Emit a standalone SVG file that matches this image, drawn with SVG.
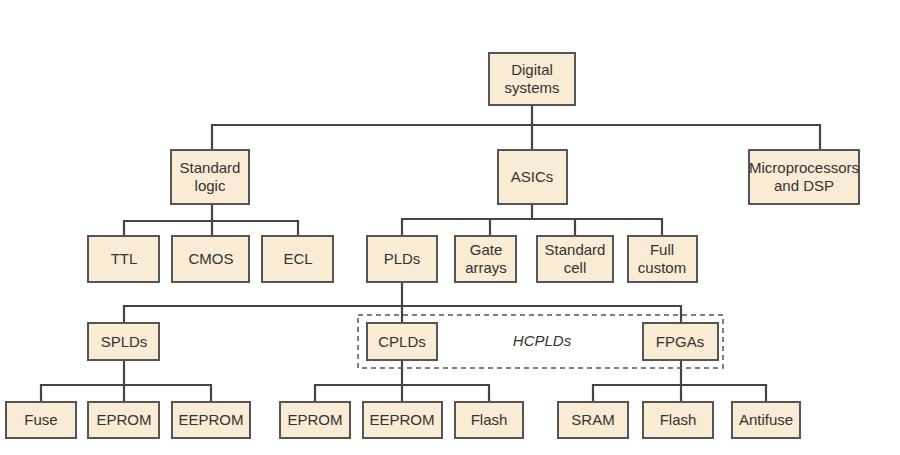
<svg xmlns="http://www.w3.org/2000/svg" width="900" height="455" viewBox="0 0 900 455">
<style>
.n rect{fill:#f9ebd4;stroke:#555;stroke-width:2}
.n text{font-family:"Liberation Sans",Arial,sans-serif;font-size:15px;fill:#333;text-anchor:middle}
#c path{fill:none;stroke:#444;stroke-width:2.2}
</style>
<rect width="900" height="455" fill="#fff"/>
<g id="c">
<path d="M532 105V125M212 150V125H820V150M532 125V150"/>
<path d="M212 204V221M124 236V221H298V236M212 221V236"/>
<path d="M532 204V219M402 236V219H662V236M490 219V236M575 219V236"/>
<path d="M402 282V306M124 323V306H681V323M402 306V323"/>
<path d="M124 360V385M41 402V385H211V402M124 385V402"/>
<path d="M402 360V385M315 402V385H489V402M402 385V402"/>
<path d="M681 360V385M593 402V385H766V402M681 385V402"/>
</g>
<rect x="358" y="315" width="365" height="53" fill="none" stroke="#555" stroke-width="1.5" stroke-dasharray="5,4"/>
<text x="542" y="346" font-family="Liberation Sans,Arial,sans-serif" font-size="15" font-style="italic" fill="#333" text-anchor="middle">HCPLDs</text>
<g id="n1" class="n"><rect x="489" y="53" width="86" height="52"/><text x="532" y="75">Digital</text><text x="532" y="93">systems</text></g>
<g id="n2" class="n"><rect x="171" y="150" width="78" height="54"/><text x="210" y="173">Standard</text><text x="210" y="191">logic</text></g>
<g id="n3" class="n"><rect x="498" y="150" width="69" height="54"/><text x="532" y="182">ASICs</text></g>
<g id="n4" class="n"><rect x="749" y="150" width="110" height="54"/><text x="804" y="173">Microprocessors</text><text x="804" y="191">and DSP</text></g>
<g id="n5" class="n"><rect x="88" y="236" width="71" height="46"/><text x="124" y="264">TTL</text></g>
<g id="n6" class="n"><rect x="172" y="236" width="77" height="46"/><text x="211" y="264">CMOS</text></g>
<g id="n7" class="n"><rect x="262" y="236" width="71" height="46"/><text x="298" y="264">ECL</text></g>
<g id="n8" class="n"><rect x="367" y="236" width="70" height="46"/><text x="402" y="264">PLDs</text></g>
<g id="n9" class="n"><rect x="455" y="236" width="61" height="46"/><text x="486" y="255">Gate</text><text x="486" y="273">arrays</text></g>
<g id="n10" class="n"><rect x="537" y="236" width="76" height="46"/><text x="575" y="255">Standard</text><text x="575" y="273">cell</text></g>
<g id="n11" class="n"><rect x="628" y="236" width="69" height="46"/><text x="662" y="255">Full</text><text x="662" y="273">custom</text></g>
<g id="n12" class="n"><rect x="88" y="323" width="71" height="37"/><text x="124" y="347">SPLDs</text></g>
<g id="n13" class="n"><rect x="367" y="323" width="70" height="37"/><text x="402" y="347">CPLDs</text></g>
<g id="n14" class="n"><rect x="643" y="323" width="75" height="37"/><text x="680" y="347">FPGAs</text></g>
<g id="n15" class="n"><rect x="6" y="402" width="70" height="36"/><text x="41" y="425">Fuse</text></g>
<g id="n16" class="n"><rect x="88" y="402" width="71" height="36"/><text x="124" y="425">EPROM</text></g>
<g id="n17" class="n"><rect x="172" y="402" width="78" height="36"/><text x="211" y="425">EEPROM</text></g>
<g id="n18" class="n"><rect x="280" y="402" width="70" height="36"/><text x="315" y="425">EPROM</text></g>
<g id="n19" class="n"><rect x="363" y="402" width="79" height="36"/><text x="402" y="425">EEPROM</text></g>
<g id="n20" class="n"><rect x="455" y="402" width="68" height="36"/><text x="489" y="425">Flash</text></g>
<g id="n21" class="n"><rect x="558" y="402" width="70" height="36"/><text x="593" y="425">SRAM</text></g>
<g id="n22" class="n"><rect x="643" y="402" width="70" height="36"/><text x="678" y="425">Flash</text></g>
<g id="n23" class="n"><rect x="732" y="402" width="68" height="36"/><text x="766" y="425">Antifuse</text></g>
</svg>
